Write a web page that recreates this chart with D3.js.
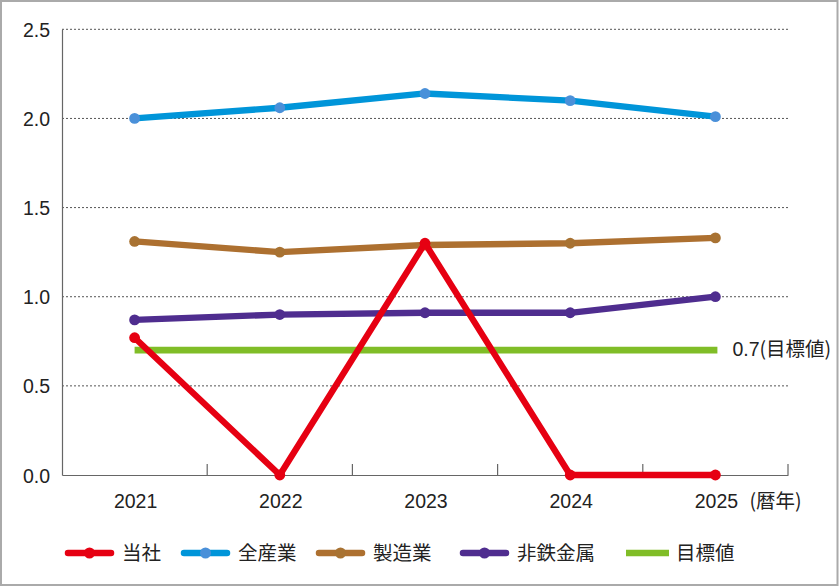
<!DOCTYPE html>
<html><head><meta charset="utf-8">
<script src="https://cdn.jsdelivr.net/npm/d3@7"></script>
<style>
html,body{margin:0;padding:0;background:#fff;}
svg{display:block;font-family:"Noto Sans CJK JP","Noto Sans",sans-serif;}
.num{font-family:"Liberation Sans",Arial,sans-serif;}
</style></head>
<body><svg id="c" width="840" height="586"></svg>
<script>
const years = ["2021","2022","2023","2024","2025"];
const yTicks = [0, 0.5, 1.0, 1.5, 2.0, 2.5];
const seriesNames = ["当社","全産業","製造業","非鉄金属","目標値"];
const tousha = [0.77, 0.00, 1.30, 0.00, 0.00];
const zensangyo = [2.00, 2.06, 2.14, 2.10, 2.01];
const seizogyo = [1.31, 1.25, 1.29, 1.30, 1.33];
const hitetsu = [0.87, 0.90, 0.91, 0.91, 1.00];
const target = [0.7, 0.7, 0.7, 0.7, 0.7];
const targetNum = "0.7";
const targetWord = "(目標値)";
const yearUnit = "(暦年)";

const colors = {
  "当社": {line:"#e60012", dot:"#e60012"},
  "全産業": {line:"#0095d9", dot:"#4a90d9"},
  "製造業": {line:"#ad7030", dot:"#a87232"},
  "非鉄金属": {line:"#4f2d8f", dot:"#4f2d8f"},
  "目標値": {line:"#80bd27", dot:null}
};
const textColor = "#222";

const svg = d3.select("#c");
const W = 840, H = 586;
svg.append("rect").attr("x",1).attr("y",1).attr("width",836.5).attr("height",584)
  .attr("fill","#fff").attr("stroke","#aaa").attr("stroke-width",2);

const L = 62, R = 788, T = 29.3, B = 475;
const x = d3.scaleBand().domain(years).range([L, R]);
const y = d3.scaleLinear().domain([0, 2.5]).range([B, T]);
const cx = d => x(d) + x.bandwidth()/2;

// gridlines
svg.append("g").selectAll("line").data(yTicks.filter(t => t > 0)).join("line")
  .attr("x1", L).attr("x2", R).attr("y1", d => y(d)).attr("y2", d => y(d))
  .attr("stroke","#555").attr("stroke-width",1).attr("stroke-dasharray","2,2");

// y axis
const yAxis = svg.append("g").attr("transform",`translate(${L},0)`)
  .call(d3.axisLeft(y).tickValues(yTicks).tickFormat(d3.format(".1f")).tickSize(0).tickPadding(12));
yAxis.select(".domain").attr("stroke","#666").attr("stroke-width",1.2);
yAxis.selectAll("text").attr("class","num").attr("font-size",19.5).attr("fill",textColor)
  .attr("dy","0.36em");

// x axis
const xAxis = svg.append("g").attr("transform",`translate(0,${B})`)
  .call(d3.axisBottom(x).tickSize(0).tickPadding(0));
xAxis.select(".domain").attr("stroke","#666").attr("stroke-width",1.2);
xAxis.selectAll("text").attr("class","num").attr("font-size",19.5).attr("fill",textColor)
  .attr("dy",null).attr("y",33).attr("dx",1);
// boundary ticks (inward)
const bounds = years.slice(1).map(d => x(d)).concat([R]);
svg.append("g").selectAll("line").data(bounds).join("line")
  .attr("x1", d => d).attr("x2", d => d).attr("y1", B).attr("y2", B - 11)
  .attr("stroke","#666").attr("stroke-width",1.2);

svg.append("text").attr("x", cx("2025") + 34).attr("y", B + 33)
  .attr("font-size",19.5).attr("fill",textColor).text(yearUnit);

// target line
svg.append("line")
  .attr("x1", cx(years[0])).attr("x2", cx(years[years.length-1]) + 2)
  .attr("y1", y(target[0])).attr("y2", y(target[0]))
  .attr("stroke", colors["目標値"].line).attr("stroke-width",6.7);
const tl = svg.append("text").attr("x", cx("2025") + 17).attr("y", y(target[0]) + 6)
  .attr("font-size",19.5).attr("fill",textColor);
tl.append("tspan").attr("class","num").text(targetNum);
tl.append("tspan").text(targetWord);

const line = d3.line().x((d,i) => cx(years[i])).y(d => y(d));
const drawSeries = (name, vals) => {
  const g = svg.append("g");
  g.append("path").datum(vals).attr("d", line).attr("fill","none")
    .attr("stroke", colors[name].line).attr("stroke-width",6.3)
    .attr("stroke-linejoin","round").attr("stroke-linecap","round");
  g.selectAll("circle").data(vals).join("circle")
    .attr("cx",(d,i) => cx(years[i])).attr("cy", d => y(d)).attr("r",5.4)
    .attr("fill", colors[name].dot);
};
drawSeries("全産業", zensangyo);
drawSeries("製造業", seizogyo);
drawSeries("非鉄金属", hitetsu);
drawSeries("当社", tousha);

// legend
const legX = [65, 181, 316, 460, 626];
const ly = 553;
seriesNames.forEach((n, i) => {
  const g = svg.append("g").attr("transform",`translate(${legX[i]},${ly})`);
  const isT = n === "目標値";
  const len = isT ? 43 : 49;
  g.append("line").attr("x1", isT ? 0 : 3).attr("x2", isT ? len : len - 3).attr("y1",0).attr("y2",0)
    .attr("stroke", colors[n].line).attr("stroke-width",6.5)
    .attr("stroke-linecap", isT ? "butt" : "round");
  if (colors[n].dot) g.append("circle").attr("cx",len/2).attr("cy",0).attr("r",5.5).attr("fill",colors[n].dot);
  g.append("text").attr("x", len + (isT ? 7 : 8)).attr("y", 7).attr("font-size",19.5).attr("fill",textColor).text(n);
});
</script></body></html>
